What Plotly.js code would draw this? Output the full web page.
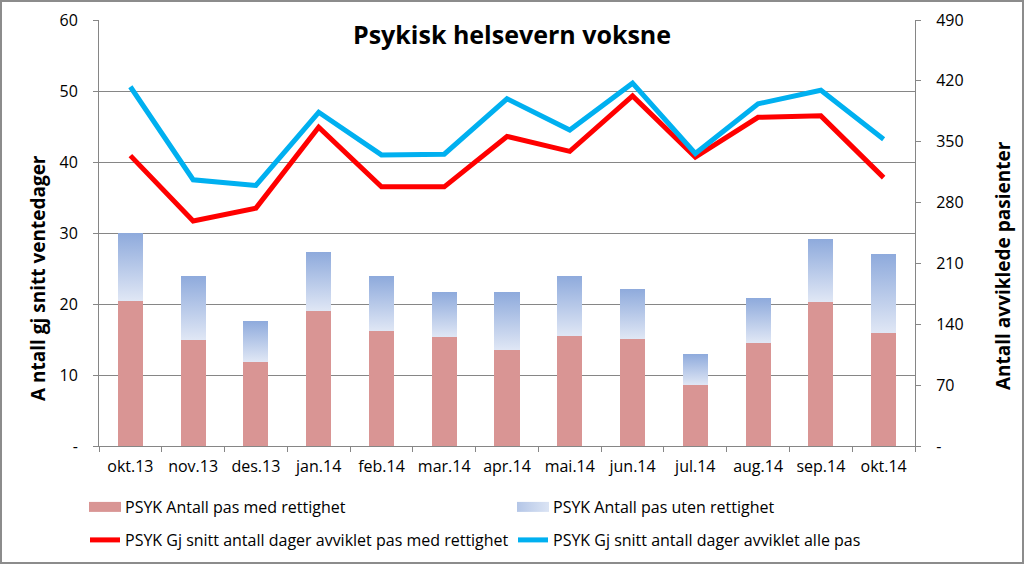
<!DOCTYPE html>
<html>
<head>
<meta charset="utf-8">
<script src="https://cdn.plot.ly/plotly-3.0.1.min.js"></script>
<style>
  html, body { margin: 0; padding: 0; background: #fff; }
  #wrap { position: relative; width: 1024px; height: 564px; }
  #chart { width: 1024px; height: 564px; }
  #frame { position: absolute; left: 0; top: 0; width: 1024px; height: 564px; box-sizing: border-box; border: 2px solid #8c8c8c; pointer-events: none; }
</style>
</head>
<body>
<div id="wrap"><div id="chart"></div><div id="frame"></div></div>
<script>
// ---- data ----
const months = ["okt.13","nov.13","des.13","jan.14","feb.14","mar.14","apr.14","mai.14","jun.14","jul.14","aug.14","sep.14","okt.14"];
const pasMedRettighet  = [167, 122, 97, 155, 132, 125, 110, 126, 123, 70, 119, 166, 130];
const pasUtenRettighet = [78, 74, 47, 68, 63, 52, 67, 70, 58, 36, 51, 72, 91];
const dagerMedRettighet = [40.9, 31.7, 33.5, 44.9, 36.5, 36.5, 43.6, 41.5, 49.3, 40.7, 46.3, 46.5, 37.8];
const dagerAllePas      = [50.6, 37.5, 36.7, 47.0, 41.0, 41.1, 48.9, 44.5, 51.1, 41.2, 48.2, 50.1, 43.2];
const leftTicks  = [0, 10, 20, 30, 40, 50, 60];
const leftTickText  = ["-", "10", "20", "30", "40", "50", "60"];
const rightTicks = [0, 70, 140, 210, 280, 350, 420, 490];
const rightTickText = ["-", "70", "140", "210", "280", "350", "420", "490"];

const FONT = "'Open Sans', 'Noto Sans', sans-serif";
const GRID = "#868686";

const traces = [
  { type: "bar", x: months, y: pasMedRettighet, name: "PSYK Antall pas med rettighet",
    marker: { color: "#d99594" }, yaxis: "y", legend: "legend", hoverinfo: "skip" },
  { type: "bar", x: months, y: pasUtenRettighet, name: "PSYK Antall pas uten rettighet",
    marker: { color: "#b8cbeb" }, yaxis: "y", legend: "legend2", hoverinfo: "skip" },
  { type: "scatter", mode: "lines", x: months, y: dagerMedRettighet,
    name: "PSYK Gj snitt antall dager avviklet pas med rettighet",
    line: { color: "#ff0000", width: 5 }, yaxis: "y2", legend: "legend3" },
  { type: "scatter", mode: "lines", x: months, y: dagerAllePas,
    name: "PSYK Gj snitt antall dager avviklet alle pas",
    line: { color: "#00b0f0", width: 5 }, yaxis: "y2", legend: "legend4" }
];

function leg(xpx, ypx) {
  return {
    orientation: "h", xref: "container", yref: "container",
    x: xpx / 1024, y: 1 - ypx / 564, xanchor: "left", yanchor: "middle",
    font: { family: FONT, size: 16, color: "#000" }, bgcolor: "rgba(0,0,0,0)"
  };
}

const layout = {
  width: 1024, height: 564,
  margin: { l: 99, r: 109, t: 20, b: 118 },
  paper_bgcolor: "#fff", plot_bgcolor: "#fff",
  font: { family: FONT, size: 15, color: "#000" },
  title: { text: "<b>Psykisk helsevern voksne</b>", font: { family: FONT, size: 25, color: "#000" },
           xref: "container", x: 0.5, xanchor: "center", yref: "container", y: 1 - 35/564, yanchor: "middle" },
  barmode: "stack", bargap: 0.6,
  showlegend: true,
  legend: leg(85, 507),
  legend2: leg(513, 507),
  legend3: leg(85, 540),
  legend4: leg(513, 540),
  xaxis: {
    type: "category", showline: true, linecolor: GRID, linewidth: 1,
    ticks: "outside", tickson: "boundaries", ticklen: 5, tickcolor: GRID,
    ticklabelstandoff: 6,
    tickfont: { family: FONT, size: 16 }, showgrid: false, zeroline: false,
    anchor: "y", fixedrange: true
  },
  yaxis: {
    side: "right", range: [0, 490], tickvals: rightTicks, ticktext: rightTickText,
    showline: true, linecolor: GRID, ticks: "outside", ticklen: 5, tickcolor: GRID,
    ticklabelstandoff: 12, showgrid: false, zeroline: false,
    tickfont: { family: FONT, size: 16 }, fixedrange: true
  },
  yaxis2: {
    side: "left", overlaying: "y", range: [0, 60], tickvals: leftTicks, ticktext: leftTickText,
    showline: true, linecolor: GRID, ticks: "outside", ticklen: 5, tickcolor: GRID,
    ticklabelstandoff: 12, showgrid: true, gridcolor: GRID, gridwidth: 1, zeroline: false,
    tickfont: { family: FONT, size: 16 }, fixedrange: true
  },
  annotations: [
    { text: "<b>A ntall gj snitt ventedager</b>", xref: "paper", yref: "paper",
      x: (38 - 99) / 816, y: (446 - 278) / 426, xanchor: "center", yanchor: "middle",
      textangle: -90, showarrow: false, font: { family: FONT, size: 19, color: "#000" } },
    { text: "<b>Antall avviklede pasienter</b>", xref: "paper", yref: "paper",
      x: (1003 - 99) / 816, y: (446 - 266) / 426, xanchor: "center", yanchor: "middle",
      textangle: -90, showarrow: false, font: { family: FONT, size: 19, color: "#000" } }
  ]
};

Plotly.newPlot("chart", traces, layout, { staticPlot: true, displayModeBar: false }).then(function (gd) {
  // vertical gradient fill for the "uten rettighet" bars, like the original
  const svg = gd.querySelector("svg.main-svg");
  const ns = "http://www.w3.org/2000/svg";
  let defs = svg.querySelector("defs");
  if (!defs) { defs = document.createElementNS(ns, "defs"); svg.insertBefore(defs, svg.firstChild); }
  function addGrad(id, x2, y2, c0, c1) {
    const grad = document.createElementNS(ns, "linearGradient");
    grad.setAttribute("id", id);
    grad.setAttribute("x1", "0"); grad.setAttribute("y1", "0");
    grad.setAttribute("x2", x2); grad.setAttribute("y2", y2);
    [["0", c0], ["1", c1]].forEach(function (s) {
      const st = document.createElementNS(ns, "stop");
      st.setAttribute("offset", s[0]); st.setAttribute("stop-color", s[1]);
      grad.appendChild(st);
    });
    defs.appendChild(grad);
  }
  addGrad("blueGrad", "0", "1", "#8eaadc", "#e0e7f5");
  addGrad("blueGradLeg", "1", "0", "#b4c6e7", "#dbe4f4");
  const barTraces = gd.querySelectorAll(".barlayer .trace");
  if (barTraces[1]) barTraces[1].querySelectorAll("path").forEach(function (p) { p.style.fill = "url(#blueGrad)"; });
  // wide rectangular legend swatches for the bar series
  const legs = [".legend", ".legend2"];
  legs.forEach(function (cls, i) {
    const p = gd.querySelector(cls + " .legendpoints path");
    if (p) {
      p.setAttribute("d", "M16,5H-16V-5H16Z");
      if (i === 1) p.style.fill = "url(#blueGradLeg)";
    }
  });
});
</script>
</body>
</html>
